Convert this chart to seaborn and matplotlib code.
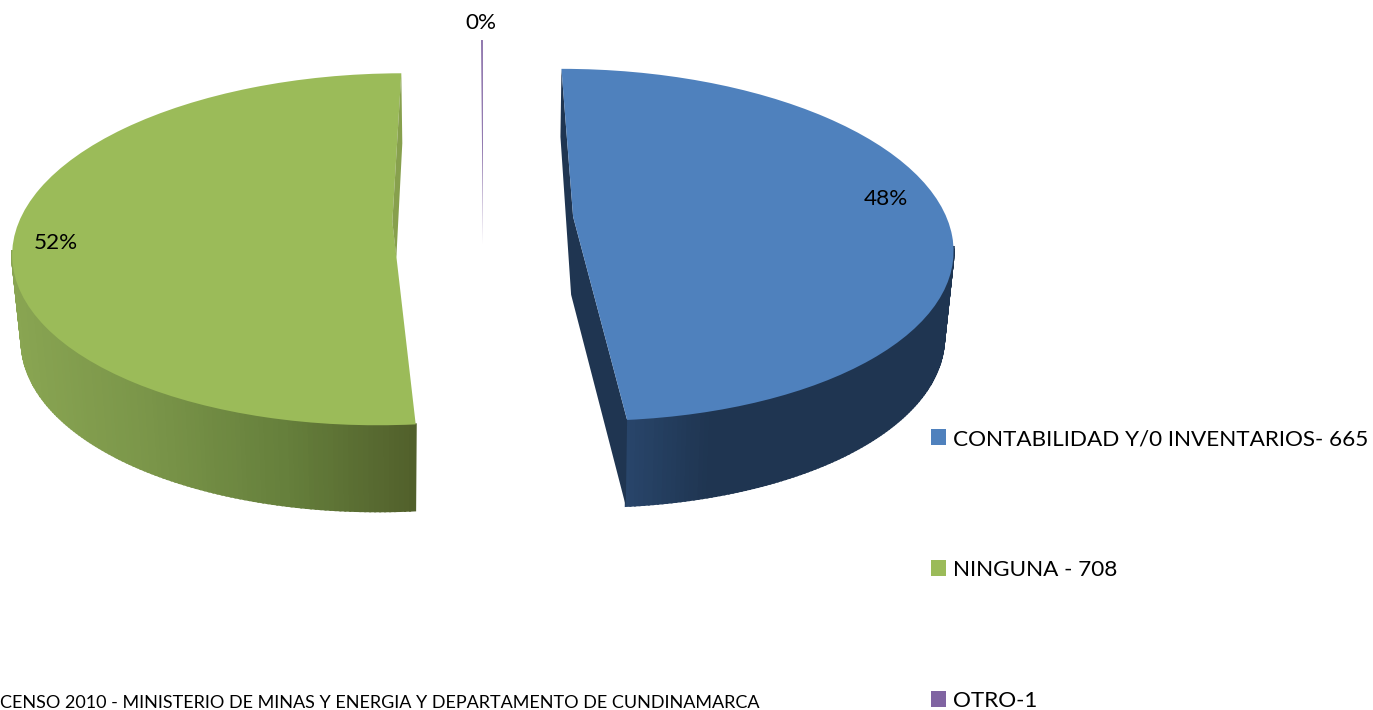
import numpy as np
import seaborn as sns
import matplotlib.pyplot as plt

# Datos
categorias = ['CONTABILIDAD Y/0 INVENTARIOS- 665', 'NINGUNA - 708', 'OTRO-1']
valores = [665, 708, 1]
fuente = 'CENSO 2010 - MINISTERIO DE MINAS Y ENERGIA Y DEPARTAMENTO DE CUNDINAMARCA'

colores = ['#4f81bd', '#9bbb59', '#8064a2']
separacion = [0.245, 0.245, 0.176]
# gradiente de la cara lateral, de izquierda a derecha
lado = {0: ['#28456a', '#1f3551', '#1f3551', '#1f3551', '#1f3551'],
        1: ['#89a552', '#7a9549', '#66803c', '#515f2b']}
cara = {0: '#1f3551', 1: '#87a04d'}
desplaza_centro = [0.16, 0.157, -0.16]
# inclinacion por la perspectiva
incl = [0.15, 0.137, 0.0]

sns.set_theme(style='white')
plt.rcParams['font.family'] = ['Lato', 'DejaVu Sans']

ANCHO, ALTO = 1373, 710
CX, CY = 483, 247   # centro del pastel en pixeles
EX, EY = 378, 176   # semiejes de la elipse en pixeles
PROF = 86 / EY      # grosor del pastel


def a_datos(px, py):
    return (px - CX) / EX, (CY - py) / EY


fig = plt.figure(figsize=(ANCHO / 100, ALTO / 100), dpi=100)
ax = fig.add_axes([0, 0, 1, 1])

wedges, textos, porcentajes = ax.pie(valores, colors=colores, explode=separacion, startangle=90,
                                     counterclock=False, autopct='%.0f%%', radius=1,
                                     wedgeprops={'linewidth': 0, 'zorder': 3},
                                     textprops={'fontsize': 16.2, 'color': 'black'})
ax.set_aspect('auto')
ax.set_xlim(-CX / EX, (ANCHO - CX) / EX)
ax.set_ylim((CY - ALTO) / EY, CY / EY)

for i, w in enumerate(wedges):
    cx, cy = w.center
    th = np.radians(np.linspace(w.theta1, w.theta2, 240))
    sup_y = cy + np.sin(th)
    sup_x = cx + np.cos(th) - cx * incl[i] * sup_y
    ap_y = cy + desplaza_centro[i]
    ap_x = cx - cx * incl[i] * ap_y

    # se mueve el vertice y se inclina la cara superior
    path = w.get_path()
    v = path.vertices
    es_centro = np.all(np.isclose(v, [cx, cy]), axis=1)
    v[es_centro, 1] += desplaza_centro[i]
    v[:, 0] = v[:, 0] - cx * incl[i] * v[:, 1]

    if i == 2:
        continue

    # cara lateral exterior por tiras
    inf_x = cx + 0.975 * (sup_x - cx)
    inf_y = sup_y - PROF
    frente = np.where(np.sin(th) <= 0)[0]
    pal = sns.blend_palette(lado[i], 101)
    x_min, x_max = sup_x[frente].min(), sup_x[frente].max()
    for a, b in zip(frente[:-1], frente[1:]):
        f = (sup_x[a] - x_min) / (x_max - x_min)
        col = pal[int(round(f * 100))]
        ax.fill([sup_x[a], sup_x[b], inf_x[b], inf_x[a]], [sup_y[a], sup_y[b], inf_y[b], inf_y[a]],
                color=col, lw=1.5, zorder=1)

    # cara interior
    if i == 0:
        ini, fin = -1, 0   # esquina de atras, esquina de adelante
        ax.fill([sup_x[ini], sup_x[ini] - 1 / EX, ap_x - 2 / EX, inf_x[fin], sup_x[fin], ap_x],
                [sup_y[ini], sup_y[ini] - 68 / EY, ap_y - 78 / EY, inf_y[fin], sup_y[fin], ap_y],
                color=cara[i], lw=0, zorder=2)
    else:
        ini = 0
        ax.fill([sup_x[ini], sup_x[ini] + 1 / EX, ap_x + 4 / EX, ap_x],
                [sup_y[ini], sup_y[ini] - 70 / EY, ap_y - 36 / EY, ap_y],
                color=cara[i], lw=0, zorder=4)

# etiquetas de porcentaje
pos_etiquetas = [(886, 199), (56, 243), (481, 23)]
for t, (px, py) in zip(porcentajes, pos_etiquetas):
    t.set_position(a_datos(px, py))
    t.set_ha('center')
    t.set_va('center')

ax.legend(wedges, categorias, loc='upper left', bbox_to_anchor=(931 / ANCHO, 1 - 429 / ALTO),
          frameon=False, fontsize=16.2, labelspacing=4.93, handlelength=0.67, handleheight=0.67,
          handletextpad=0.3, borderpad=0, borderaxespad=0, labelcolor='black')

fig.text(0, 1 - 703 / ALTO, fuente, fontsize=13, color='black', ha='left', va='center')

fig.savefig('out.png', dpi=100, facecolor='white')
